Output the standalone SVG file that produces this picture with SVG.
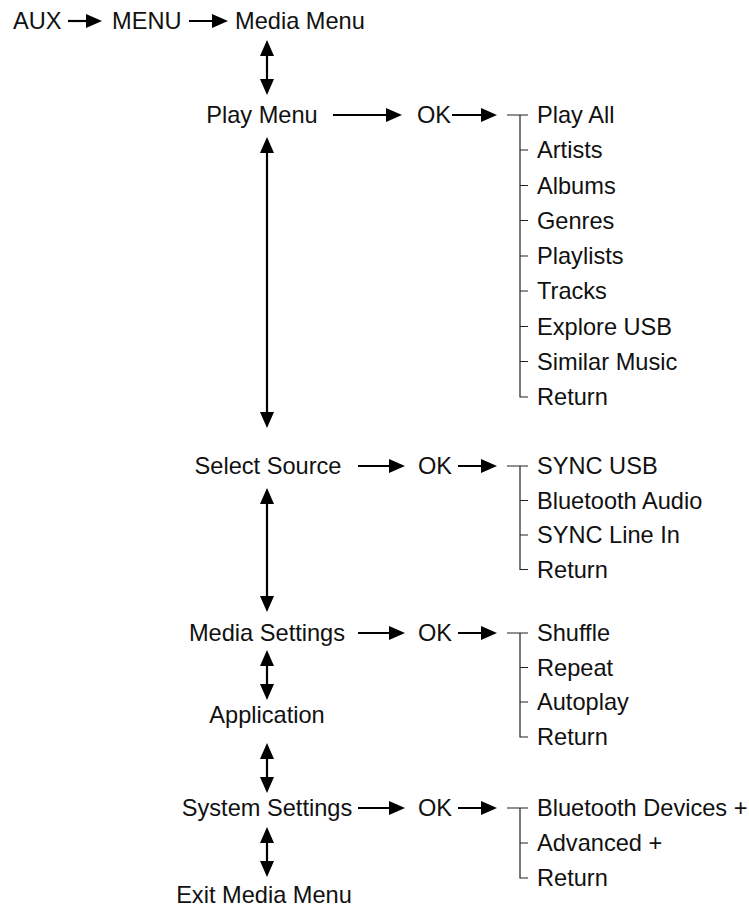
<svg xmlns="http://www.w3.org/2000/svg" width="749" height="915" viewBox="0 0 749 915">
<style>
text{font-family:"Liberation Sans",Arial,Helvetica,sans-serif;font-size:23.6px;fill:#111}
.m{text-anchor:middle}
.a{stroke:#000;stroke-width:2.2;fill:none}
.t{stroke:#222;stroke-width:1.2;fill:none}
</style>
<defs>
<marker id="ah" markerUnits="userSpaceOnUse" markerWidth="16" markerHeight="14" refX="12" refY="7" orient="auto-start-reverse" viewBox="0 0 16 14">
<path d="M0,0 L16,7 L0,14 z" fill="#000"/>
</marker>
</defs>
<rect width="749" height="915" fill="#fff"/>

<g id="aux"><text x="13" y="29">AUX</text></g>
<g id="menu"><text x="112" y="29">MENU</text></g>
<g id="media-menu"><text x="235" y="29">Media Menu</text></g>

<g id="play-menu"><text class="m" x="262" y="123">Play Menu</text></g>
<g id="ok-play"><text x="417" y="123">OK</text></g>
<g id="play-list">
<text x="537" y="123">Play All</text>
<text x="537" y="158">Artists</text>
<text x="537" y="193.5">Albums</text>
<text x="537" y="228.5">Genres</text>
<text x="537" y="264">Playlists</text>
<text x="537" y="299">Tracks</text>
<text x="537" y="334.5">Explore USB</text>
<text x="537" y="369.5">Similar Music</text>
<text x="537" y="405">Return</text>
<path class="t" d="M507,115H528M520,115V397H528M520,150H528M520,185.5H528M520,220.5H528M520,256H528M520,291H528M520,326.5H528M520,361.5H528"/>
</g>

<g id="select-source"><text class="m" x="268" y="474">Select Source</text></g>
<g id="ok-source"><text x="418" y="474">OK</text></g>
<g id="source-list">
<text x="537" y="474">SYNC USB</text>
<text x="537" y="508.5">Bluetooth Audio</text>
<text x="537" y="543">SYNC Line In</text>
<text x="537" y="577.5">Return</text>
<path class="t" d="M507,466H528M520,466V569.5H528M520,500.5H528M520,535H528"/>
</g>

<g id="media-settings"><text class="m" x="267" y="641">Media Settings</text></g>
<g id="ok-media"><text x="418" y="641">OK</text></g>
<g id="media-list">
<text x="537" y="641">Shuffle</text>
<text x="537" y="675.5">Repeat</text>
<text x="537" y="710">Autoplay</text>
<text x="537" y="745">Return</text>
<path class="t" d="M507,633H528M520,633V737H528M520,667.5H528M520,702H528"/>
</g>

<g id="application"><text class="m" x="267" y="723">Application</text></g>

<g id="system-settings"><text class="m" x="267" y="816">System Settings</text></g>
<g id="ok-system"><text x="418" y="816">OK</text></g>
<g id="system-list">
<text x="537" y="816">Bluetooth Devices +</text>
<text x="537" y="851">Advanced +</text>
<text x="537" y="886">Return</text>
<path class="t" d="M507,808H528M520,808V878H528M520,843H528"/>
</g>

<g id="exit"><text class="m" x="264" y="903">Exit Media Menu</text></g>

<g id="connectors">
<line class="a" x1="68" y1="21" x2="98" y2="21" marker-end="url(#ah)"/>
<line class="a" x1="189" y1="21" x2="224" y2="21" marker-end="url(#ah)"/>
<line class="a" x1="333" y1="115" x2="398" y2="115" marker-end="url(#ah)"/>
<line class="a" x1="452" y1="115" x2="493" y2="115" marker-end="url(#ah)"/>
<line class="a" x1="358" y1="466" x2="401" y2="466" marker-end="url(#ah)"/>
<line class="a" x1="458" y1="466" x2="493" y2="466" marker-end="url(#ah)"/>
<line class="a" x1="358" y1="633" x2="401" y2="633" marker-end="url(#ah)"/>
<line class="a" x1="458" y1="633" x2="493" y2="633" marker-end="url(#ah)"/>
<line class="a" x1="358" y1="808" x2="401" y2="808" marker-end="url(#ah)"/>
<line class="a" x1="458" y1="808" x2="493" y2="808" marker-end="url(#ah)"/>
<line class="a" x1="267" y1="44" x2="267" y2="91" marker-start="url(#ah)" marker-end="url(#ah)"/>
<line class="a" x1="267" y1="141" x2="267" y2="424" marker-start="url(#ah)" marker-end="url(#ah)"/>
<line class="a" x1="267" y1="492" x2="267" y2="608" marker-start="url(#ah)" marker-end="url(#ah)"/>
<line class="a" x1="267" y1="654" x2="267" y2="696" marker-start="url(#ah)" marker-end="url(#ah)"/>
<line class="a" x1="267" y1="747" x2="267" y2="789" marker-start="url(#ah)" marker-end="url(#ah)"/>
<line class="a" x1="267" y1="831" x2="267" y2="873" marker-start="url(#ah)" marker-end="url(#ah)"/>
</g>
</svg>
